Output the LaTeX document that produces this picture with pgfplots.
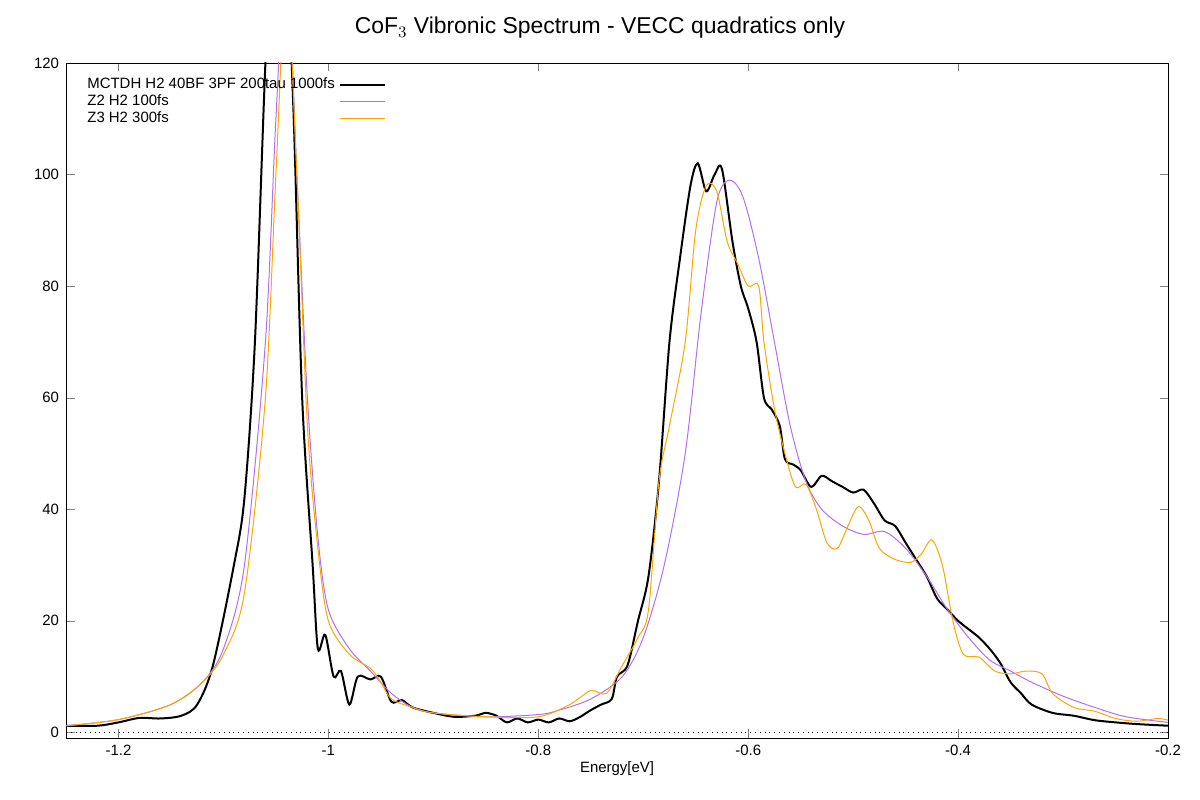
\documentclass[border=0pt]{standalone}
\usepackage{pgfplots}
\pgfplotsset{compat=1.18}
\usepackage{fontspec}
\setmainfont{Liberation Sans}
\definecolor{purp}{HTML}{B070F0}
\definecolor{orng}{HTML}{FFA500}
\begin{document}
\begin{tikzpicture}
\path (0,0) rectangle (600bp,400bp);
\node at (300bp,386bp) {\fontsize{11.5}{13}\selectfont CoF$_3$ Vibronic Spectrum - VECC quadratics only};
\begin{axis}[at={(33bp,31bp)},anchor=south west,scale only axis,
 width=551bp,height=337.5bp,xmin=-1.25,xmax=-0.2,ymin=-1,ymax=120,
 xtick={-1.2,-1,-0.8,-0.6,-0.4,-0.2},xticklabels={-1.2,-1,-0.8,-0.6,-0.4,-0.2},
 ytick={0,20,...,120},tick align=inside,
 tick label style={font=\fontsize{7.5}{9}\selectfont},
 /pgf/number format/assume math mode=true,
 xlabel={\fontsize{7.5}{9}\selectfont Energy[eV]},
 xlabel style={yshift=4bp},
 legend style={at={(0.01,0.99)},anchor=north west,draw=none,fill=none,font=\fontsize{7.5}{8.5}\selectfont,row sep=-2.5bp},
 legend cell align=left,legend plot pos=right,
 legend image code/.code={\draw[#1] (0cm,0cm) -- (0.8cm,0cm);},
]
\addplot[black,line width=1bp,smooth] coordinates {
(-1.25,1.2)(-1.22,1.2)(-1.2,1.8)(-1.18,2.6)(-1.16,2.5)(-1.14,3)(-1.125,5)(-1.11,12)(-1.09,30)(-1.08,42)(-1.07,70)(-1.06,120)(-1.05,160)(-1.04,140)(-1.033,110)(-1.025,60)(-1.015,30)(-1.01,15)(-1.003,17.5)(-0.995,10)(-0.988,11)(-0.98,5)(-0.972,10)(-0.96,9.5)(-0.95,10)(-0.94,5.5)(-0.93,5.8)(-0.92,4.5)(-0.9,3.5)(-0.88,2.8)(-0.86,3)(-0.85,3.5)(-0.84,3)(-0.83,1.8)(-0.82,2.5)(-0.81,1.8)(-0.8,2.3)(-0.79,1.8)(-0.78,2.5)(-0.77,2)(-0.76,2.8)(-0.75,4)(-0.74,5)(-0.73,6)(-0.725,10)(-0.715,12)(-0.705,20)(-0.695,28)(-0.685,45)(-0.675,70)(-0.665,85)(-0.655,98)(-0.648,102)(-0.64,97)(-0.632,100)(-0.625,101)(-0.615,88)(-0.607,80)(-0.6,76)(-0.592,70)(-0.585,60)(-0.578,58)(-0.57,55)(-0.565,49)(-0.557,48)(-0.55,47)(-0.54,44)(-0.53,46)(-0.52,45)(-0.51,44)(-0.5,43)(-0.49,43.5)(-0.48,41)(-0.47,38)(-0.46,37)(-0.45,34)(-0.44,31)(-0.43,28)(-0.42,24)(-0.41,22)(-0.4,20)(-0.39,18.5)(-0.38,17)(-0.37,15)(-0.36,12.5)(-0.35,9)(-0.34,7)(-0.33,5)(-0.31,3.5)(-0.29,3)(-0.27,2.2)(-0.25,1.8)(-0.23,1.5)(-0.2,1.2)};
\addlegendentry{MCTDH H2 40BF 3PF 200tau 1000fs}
\addplot[purp,line width=0.5bp,smooth] coordinates {
(-1.25,1.2)(-1.2,2.3)(-1.15,5)(-1.12,9)(-1.1,15)(-1.08,30)(-1.06,70)(-1.05,110)(-1.04,140)(-1.03,100)(-1.02,60)(-1.01,35)(-1.0,22)(-0.98,15)(-0.96,11)(-0.94,7)(-0.92,4.5)(-0.9,3.5)(-0.85,2.8)(-0.8,3.2)(-0.78,4)(-0.75,6)(-0.72,10)(-0.7,17)(-0.68,30)(-0.66,50)(-0.645,75)(-0.63,95)(-0.618,99)(-0.605,96)(-0.59,85)(-0.575,70)(-0.56,55)(-0.545,45)(-0.53,40)(-0.51,37)(-0.49,35.5)(-0.47,36)(-0.45,33)(-0.43,28)(-0.41,22)(-0.39,17)(-0.37,13)(-0.35,11)(-0.33,9)(-0.3,6.5)(-0.27,4.5)(-0.24,2.8)(-0.2,1.8)};
\addlegendentry{Z2 H2 100fs}
\addplot[orng,line width=0.5bp,smooth] coordinates {
(-1.25,1.2)(-1.2,2.3)(-1.15,5)(-1.12,9)(-1.1,14)(-1.08,25)(-1.06,60)(-1.05,100)(-1.04,135)(-1.03,100)(-1.02,55)(-1.01,33)(-1.0,20)(-0.98,14)(-0.96,11.5)(-0.95,9)(-0.94,6)(-0.92,4.5)(-0.9,3.5)(-0.85,2.8)(-0.8,2.8)(-0.77,5)(-0.75,7.5)(-0.735,7)(-0.72,12)(-0.705,17)(-0.695,22)(-0.685,45)(-0.675,55)(-0.66,70)(-0.65,90)(-0.64,98)(-0.63,97)(-0.62,88)(-0.61,84)(-0.6,80)(-0.59,80)(-0.585,70)(-0.575,58)(-0.565,50)(-0.555,44)(-0.545,44.5)(-0.535,40)(-0.525,34)(-0.515,33)(-0.505,37)(-0.495,40.5)(-0.485,38)(-0.475,33)(-0.46,31)(-0.445,30.5)(-0.435,32)(-0.425,34.5)(-0.415,30)(-0.405,20)(-0.395,14)(-0.38,13.5)(-0.365,11)(-0.35,10.5)(-0.335,11)(-0.32,10.5)(-0.31,7)(-0.29,4.5)(-0.27,3.8)(-0.25,2.5)(-0.23,2)(-0.21,2.5)(-0.2,2.2)};
\addlegendentry{Z3 H2 300fs}
\addplot[black,dotted,line width=0.4bp,forget plot] coordinates {(-1.25,0)(-0.2,0)};
\end{axis}
\end{tikzpicture}
\end{document}
